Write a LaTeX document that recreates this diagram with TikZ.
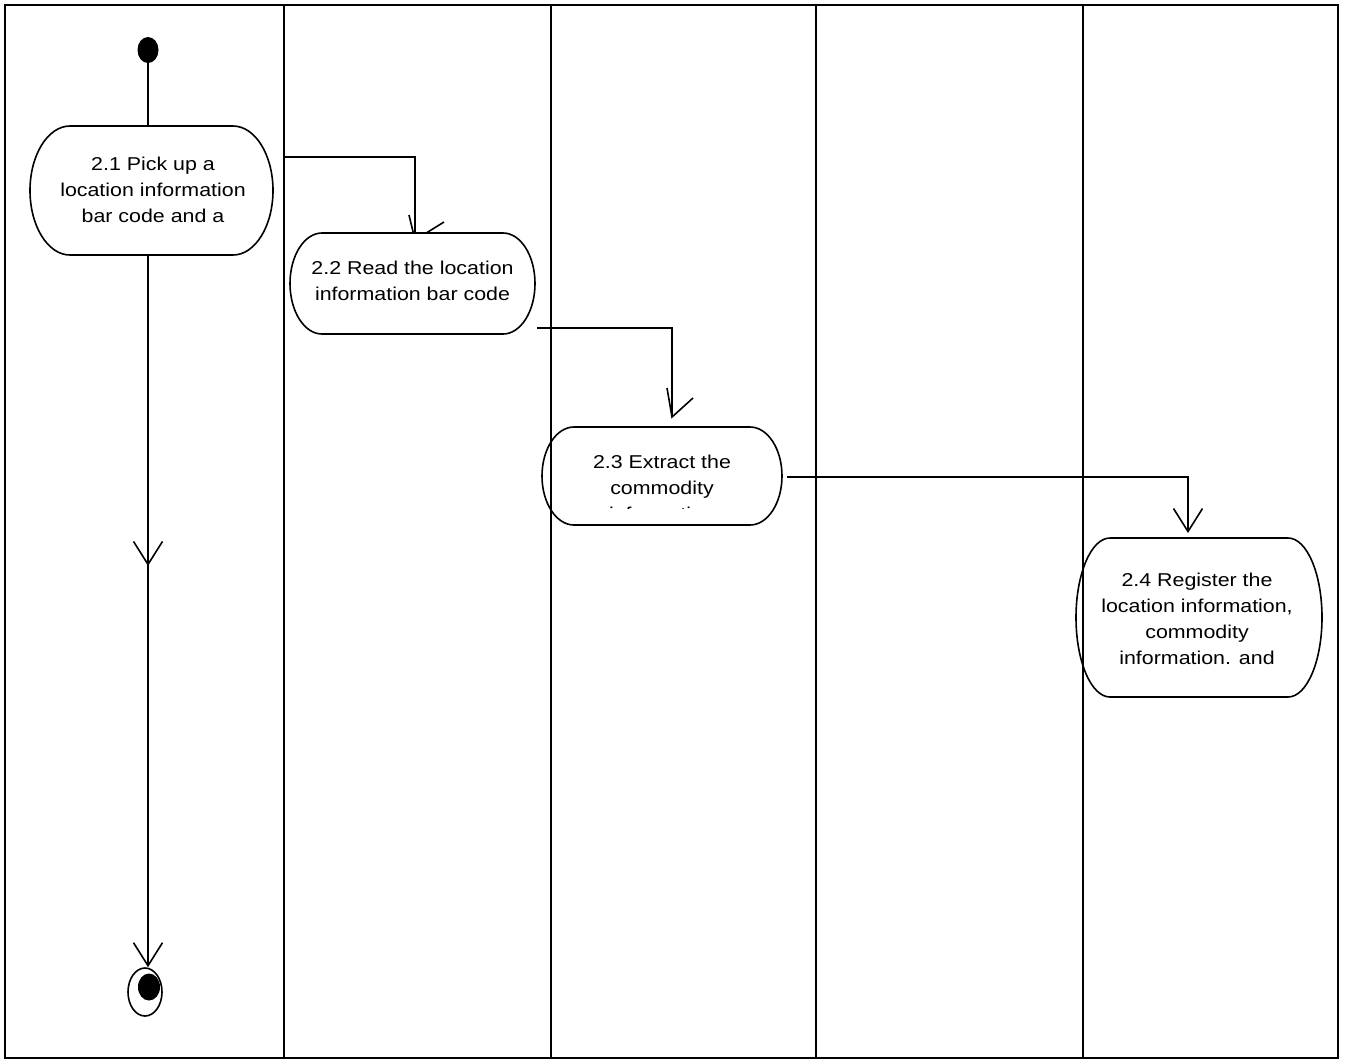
\documentclass[tikz,border=0pt]{standalone}
\usepackage{fontspec}
\setmainfont{Liberation Sans}
\newfontfamily\actfont[FakeStretch=1.15]{Liberation Sans}
\usetikzlibrary{arrows.meta,calc,decorations.markings,shapes.geometric}
\pgfdeclarelayer{background}
\pgfdeclarelayer{foreground}
\pgfsetlayers{background,main,foreground}
\tikzset{
  acttext/.style={inner sep=0pt, outer sep=0pt, align=center, font=\actfont\fontsize{18.6pt}{26pt}\selectfont},
  conn/.style={line width=1.6pt},
  actline/.style={line width=1.6pt, fill=white},
  lanesep/.style={line width=2pt},
  frameline/.style={line width=2.6pt},
  >={Straight Barb[length=23pt,width=29pt]},
}
\newcommand\actshape[4]{%
  \draw[actline] ($(#1)+(-#2+#4,-#3)$) -- ($(#1)+(#2-#4,-#3)$)
    arc[start angle=90,end angle=-90,x radius=#4pt,y radius=#3pt]
    -- ($(#1)+(-#2+#4,#3)$)
    arc[start angle=270,end angle=90,x radius=#4pt,y radius=#3pt] -- cycle;}
\begin{document}
\begin{tikzpicture}[x=1pt,y=-1pt]
\useasboundingbox (0,0) rectangle (1349,1061);
% nodes
\node[ellipse, fill=black, minimum width=21pt, minimum height=26pt, inner sep=0pt] (ini) at (148,50) {};
\node[acttext] (a21) at (153,190) {2.1 Pick up a\\location information\\bar code and a};
\node[acttext] (a22) at (412.5,280.5) {2.2 Read the location\\information bar code};
\begin{scope}
\clip (540,420) rectangle (790,508);
\node[acttext] (a23) at (662,488) {2.3 Extract the\\commodity\\information};
\end{scope}
\node[acttext] (a24) at (1197,618.5) {2.4 Register the\\location information,\\commodity\\information. and};
\node[ellipse, draw, line width=1.6pt, minimum width=34pt, minimum height=48pt, inner sep=0pt] (fin) at (145,992) {};
\node[ellipse, fill=black, minimum width=22pt, minimum height=27pt, inner sep=0pt] (finin) at (149,987) {};
% box centres
\coordinate (b21) at ($(a21)+(-1.5,0.5)$);
\coordinate (b22) at ($(a22)+(0,3)$);
\coordinate (b23) at ($(a23)+(0,-12)$);
\coordinate (b24) at ($(a24)+(2,-1)$);
\coordinate (t21) at ($(b21)+(0,-64.5)$);
\coordinate (s21) at ($(b21)+(0,64.5)$);
\coordinate (o21) at ($(b21)+(131.5,-33.5)$);
\coordinate (h22) at ($(b22)+(2.5,-43.5)$);
\coordinate (o22) at ($(b22)+(124.5,44.5)$);
\coordinate (h23) at ($(b23)+(10,-59)$);
\coordinate (o23) at ($(b23)+(125,1)$);
\coordinate (h24) at ($(b24)+(-11,-84.5)$);
\begin{pgfonlayer}{background}
\draw[conn] (ini.south) -- (ini.south |- t21);
\draw[conn,->,postaction={decorate},decoration={markings,mark=at position 0.4366 with {\arrow{>}}}] (ini |- s21) -- (ini |- fin.north);
\draw[conn] (o21) -| (h22);
\draw[conn] ($(h22)+(-6,-25)$) -- (h22) -- ($(h22)+(29,-18)$);
\draw[conn] (o22) -| (h23);
\draw[conn] ($(h23)+(-5,-29)$) -- (h23) -- ($(h23)+(21,-19)$);
\draw[conn,->] (o23) -| (h24);
\actshape{b21}{121.5}{64.5}{40}
\actshape{b22}{122.5}{50.5}{32}
\actshape{b23}{120}{49}{32}
\actshape{b24}{123}{79.5}{34}
\end{pgfonlayer}
\begin{pgfonlayer}{foreground}
\draw[frameline] (5,5) rectangle (1338,1058);
\foreach \x in {284,551,816,1083} \draw[lanesep] (\x,5) -- (\x,1058);
\end{pgfonlayer}
\end{tikzpicture}
\end{document}
